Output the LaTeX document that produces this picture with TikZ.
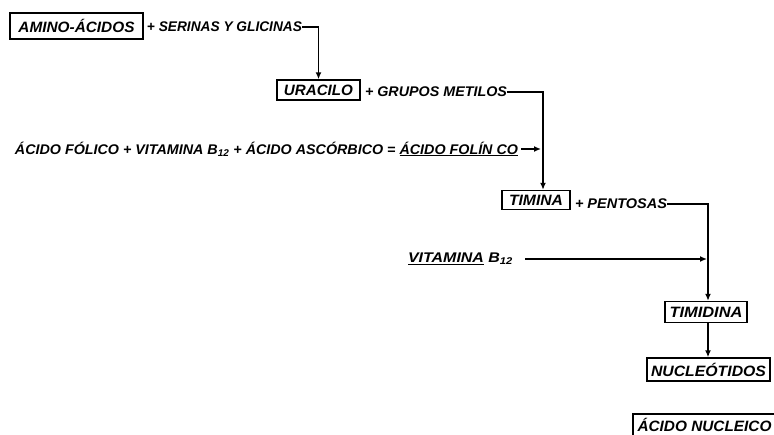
\documentclass[tikz,border=0pt]{standalone}
\usepackage{fontspec}
\setmainfont{Liberation Sans}
\usepackage{graphicx}
\usetikzlibrary{arrows.meta,calc}
\newcommand\fitto[2]{\resizebox{#1pt}{\height}{#2}}
\tikzset{
  lbl/.style={inner sep=0pt, font=\fontsize{14}{16}\selectfont\bfseries\itshape},
  boxed/.style={lbl, draw, line width=1.4pt, font=\fontsize{15}{17}\selectfont\bfseries\itshape},
  conn/.style={line width=1.4pt},
  arr/.style={conn, -{Latex[length=7pt,width=6pt]}}
}
\begin{document}
\begin{tikzpicture}[x=1pt,y=-1pt]
\useasboundingbox (0,0) rectangle (774,434);
% nodes
\node[boxed, minimum width=133pt, minimum height=26pt] (amino) at (76.5,26) {\fitto{116}{AMINO-ÁCIDOS}};
\node[lbl] (serinas) at (224.5,27) {\fitto{155}{+ SERINAS Y GLICINAS}};
\node[boxed, minimum width=83pt, minimum height=20pt] (uracilo) at (318.5,90) {\fitto{69}{URACILO}};
\node[lbl] (grupos) at (436,92) {\fitto{142}{+ GRUPOS METILOS}};
\node[lbl] (folico) at (266.5,149) {\fitto{503}{ÁCIDO FÓLICO + VITAMINA B\textsubscript{12} + ÁCIDO ASCÓRBICO = \underline{ÁCIDO FOLÍN CO}}};
\node[boxed, minimum width=68pt, minimum height=19pt] (timina) at (536,200) {\fitto{54}{TIMINA}};
\node[lbl] (pentosas) at (621,204) {\fitto{92}{+ PENTOSAS}};
\node[lbl] (vitamina) at (460.5,259) {\fitto{105}{\underline{VITAMINA} B\textsubscript{12}}};
\node[boxed, minimum width=82pt, minimum height=21pt] (timidina) at (706,312) {\fitto{73}{TIMIDINA}};
\node[boxed, minimum width=123pt, minimum height=23pt] (nucleotidos) at (708.5,369.5) {\fitto{115}{NUCLEÓTIDOS}};
\node[boxed, minimum width=143pt, minimum height=22pt] (acido) at (704.5,425) {\fitto{134}{ÁCIDO NUCLEICO}};
% columns
\coordinate (c1) at (543,0);
\coordinate (c2) at (708,0);
% connectors
\draw[arr] (serinas.east) -| (uracilo.north);
\draw[arr] (grupos.east) -| (c1 |- timina.north);
\draw[arr] ([xshift=3pt]folico.east) -- ([xshift=-2pt]c1 |- folico.east);
\draw[arr] (pentosas.east) -| (c2 |- timidina.north);
\draw[arr] ([xshift=12pt]vitamina.east) -- ([xshift=-1pt]c2 |- vitamina.east);
\draw[arr] (c2 |- timidina.south) -- (c2 |- nucleotidos.north);
\end{tikzpicture}
\end{document}
